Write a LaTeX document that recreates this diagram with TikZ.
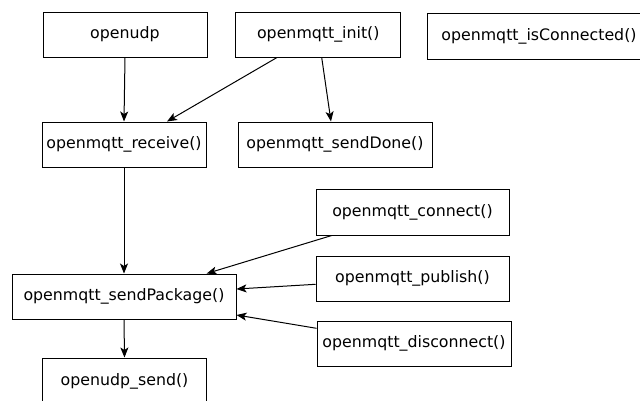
\documentclass[tikz,border=0pt]{standalone}
\usepackage{fontspec}
\setmainfont{DejaVu Sans}
\usetikzlibrary{arrows.meta}
\begin{document}
\begin{tikzpicture}[x=1pt,y=-1pt,
  fn/.style={draw, line width=1pt, inner sep=0pt, minimum height=45pt,
    font=\fontsize{15.8}{19}\selectfont},
  arr/.style={line width=1pt, -{Stealth[length=10pt,width=8pt,inset=2.5pt]}}]
\clip (0,0) rectangle (640,400);
\fill[white] (0,0) rectangle (640,400);

% functions
\node[fn, minimum width=164pt] (udp)     at (125,34.5)   {openudp};
\node[fn, minimum width=165pt] (init)    at (318.3,34.5) {openmqtt\_init()};
\node[fn, minimum width=224pt, minimum height=46pt] (iscon) at (539,36) {openmqtt\_isConnected()};
\node[fn, minimum width=164pt] (recv)    at (124,144.5)  {openmqtt\_receive()};
\node[fn, minimum width=194pt] (done)    at (335,144.5)  {openmqtt\_sendDone()};
\node[fn, minimum width=193pt, minimum height=46pt] (conn) at (412.5,212) {openmqtt\_connect()};
\node[fn, minimum width=193pt] (pub)     at (412.5,278.5) {openmqtt\_publish()};
\node[fn, minimum width=194pt] (disc)    at (414,343.5)  {openmqtt\_disconnect()};
\node[fn, minimum width=224pt] (pkg)     at (124,296.5)  {openmqtt\_sendPackage()};
\node[fn, minimum width=164pt, minimum height=46pt] (usend) at (124.5,381) {openudp\_send()};

% calls
\draw[arr] (udp.south) -- (recv.north);
\draw[arr] ([xshift=-41.3pt]init.south) -- ([xshift=43pt]recv.north);
\draw[arr] ([xshift=3.4pt]init.south) -- ([xshift=-4pt]done.north);
\draw[arr] (recv.south) -- (pkg.north);
\draw[arr] ([xshift=-80.8pt]conn.south) -- ([xshift=82.7pt]pkg.north);
\draw[arr] ([yshift=-5.8pt]pub.west) -- ([yshift=7.5pt]pkg.east);
\draw[arr] ([yshift=15.2pt]disc.west) -- ([yshift=-18.5pt]pkg.east);
\draw[arr] (pkg.south) -- (usend.north);
\end{tikzpicture}
\end{document}
